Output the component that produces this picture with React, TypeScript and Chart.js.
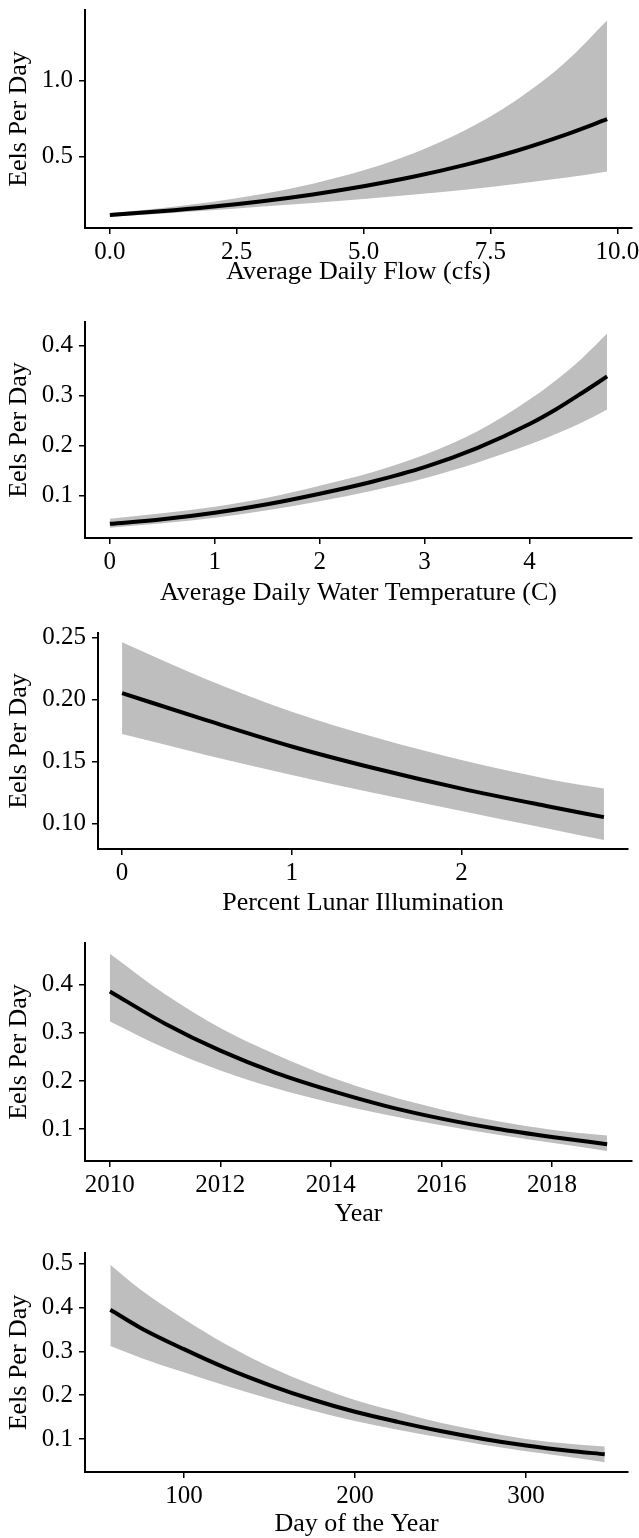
import React, { useEffect, useRef } from "react";
import Chart from "chart.js/auto";

const FONT = "'Liberation Serif', 'Times New Roman', serif";
const Y_TITLE = "Eels Per Day";

// Panel 1: Average Daily Flow (cfs)
const flowX = [0, 1, 2, 3, 4, 5, 6, 7, 8, 9, 9.8];
const flowFit = [0.112, 0.136, 0.166, 0.203, 0.248, 0.302, 0.366, 0.443, 0.535, 0.645, 0.745];
const flowUpper = [0.125, 0.157, 0.198, 0.251, 0.319, 0.407, 0.522, 0.672, 0.869, 1.128, 1.4];
const flowLower = [0.1, 0.12, 0.143, 0.168, 0.192, 0.218, 0.247, 0.279, 0.317, 0.359, 0.4];
const flowXTicks = [0, 2.5, 5, 7.5, 10];
const flowXLabels = ["0.0", "2.5", "5.0", "7.5", "10.0"];
const flowYTicks = [0.5, 1.0];
const flowYLabels = ["0.5", "1.0"];

// Panel 2: Average Daily Water Temperature (C)
const tempX = [0, 0.5, 1, 1.5, 2, 2.5, 3, 3.5, 4, 4.25, 4.5, 4.74];
const tempFit = [0.044, 0.053, 0.066, 0.083, 0.104, 0.128, 0.157, 0.195, 0.243, 0.272, 0.305, 0.338];
const tempUpper = [0.054, 0.065, 0.078, 0.096, 0.12, 0.147, 0.182, 0.228, 0.292, 0.33, 0.374, 0.4235];
const tempLower = [0.036, 0.045, 0.056, 0.071, 0.089, 0.11, 0.135, 0.166, 0.202, 0.223, 0.246, 0.272];
const tempXTicks = [0, 1, 2, 3, 4];
const tempXLabels = ["0", "1", "2", "3", "4"];
const tempYTicks = [0.1, 0.2, 0.3, 0.4];
const tempYLabels = ["0.1", "0.2", "0.3", "0.4"];

// Panel 3: Percent Lunar Illumination
const lunarX = [0, 0.5, 1, 1.5, 2, 2.5, 2.84];
const lunarFit = [0.205, 0.183, 0.162, 0.144, 0.128, 0.114, 0.105];
const lunarUpper = [0.246, 0.216, 0.19, 0.169, 0.151, 0.136, 0.128];
const lunarLower = [0.172, 0.155, 0.139, 0.124, 0.11, 0.096, 0.0865];
const lunarXTicks = [0, 1, 2];
const lunarXLabels = ["0", "1", "2"];
const lunarYTicks = [0.1, 0.15, 0.2, 0.25];
const lunarYLabels = ["0.10", "0.15", "0.20", "0.25"];

// Panel 4: Year
const yearX = [2010, 2011, 2012, 2013, 2014, 2015, 2016, 2017, 2018, 2019];
const yearFit = [0.386, 0.319, 0.263, 0.217, 0.18, 0.148, 0.122, 0.101, 0.084, 0.069];
const yearUpper = [0.4645, 0.38, 0.31, 0.255, 0.208, 0.171, 0.141, 0.117, 0.099, 0.0867];
const yearLower = [0.3237, 0.268, 0.222, 0.185, 0.155, 0.13, 0.108, 0.089, 0.072, 0.0549];
const yearXTicks = [2010, 2012, 2014, 2016, 2018];
const yearXLabels = ["2010", "2012", "2014", "2016", "2018"];
const yearYTicks = [0.1, 0.2, 0.3, 0.4];
const yearYLabels = ["0.1", "0.2", "0.3", "0.4"];

// Panel 5: Day of the Year
const dayX = [57, 75, 100, 125, 150, 175, 200, 225, 250, 275, 300, 325, 346];
const dayFit = [0.395, 0.353, 0.305, 0.261, 0.223, 0.19, 0.162, 0.139, 0.118, 0.1, 0.085, 0.073, 0.065];
const dayUpper = [0.498, 0.44, 0.374, 0.315, 0.265, 0.224, 0.189, 0.162, 0.137, 0.117, 0.1, 0.089, 0.083];
const dayLower = [0.312, 0.285, 0.252, 0.221, 0.192, 0.165, 0.141, 0.121, 0.103, 0.087, 0.072, 0.059, 0.047];
const dayXTicks = [100, 200, 300];
const dayXLabels = ["100", "200", "300"];
const dayYTicks = [0.1, 0.2, 0.3, 0.4, 0.5];
const dayYLabels = ["0.1", "0.2", "0.3", "0.4", "0.5"];

type Panel = {
  top: number; height: number; padTop: number; padRight: number; yWidth: number; xHeight: number;
  xs: number[]; fit: number[]; upper: number[]; lower: number[];
  xMin: number; xMax: number; yMin: number; yMax: number;
  xTicks: number[]; xLabels: string[]; yTicks: number[]; yLabels: string[]; xTitle: string;
};

const PANELS: Panel[] = [
  { top: 0, height: 288, padTop: 10, padRight: 7, yWidth: 85, xHeight: 60,
    xs: flowX, fit: flowFit, upper: flowUpper, lower: flowLower,
    xMin: -0.49, xMax: 10.29, yMin: 0.026, yMax: 1.467,
    xTicks: flowXTicks, xLabels: flowXLabels, yTicks: flowYTicks, yLabels: flowYLabels,
    xTitle: "Average Daily Flow (cfs)" },
  { top: 300, height: 309, padTop: 22, padRight: 7, yWidth: 85, xHeight: 71,
    xs: tempX, fit: tempFit, upper: tempUpper, lower: tempLower,
    xMin: -0.237, xMax: 4.977, yMin: 0.0157, yMax: 0.4466,
    xTicks: tempXTicks, xLabels: tempXLabels, yTicks: tempYTicks, yLabels: tempYLabels,
    xTitle: "Average Daily Water Temperature (C)" },
  { top: 610, height: 309, padTop: 23, padRight: 11, yWidth: 98, xHeight: 70,
    xs: lunarX, fit: lunarFit, upper: lunarUpper, lower: lunarLower,
    xMin: -0.142, xMax: 2.982, yMin: 0.0793, yMax: 0.2535,
    xTicks: lunarXTicks, xLabels: lunarXLabels, yTicks: lunarYTicks, yLabels: lunarYLabels,
    xTitle: "Percent Lunar Illumination" },
  { top: 920, height: 310, padTop: 23, padRight: 7, yWidth: 85, xHeight: 69,
    xs: yearX, fit: yearFit, upper: yearUpper, lower: yearLower,
    xMin: 2009.55, xMax: 2019.45, yMin: 0.034, yMax: 0.4866,
    xTicks: yearXTicks, xLabels: yearXLabels, yTicks: yearYTicks, yLabels: yearYLabels,
    xTitle: "Year" },
  { top: 1230, height: 310, padTop: 23, padRight: 11, yWidth: 85, xHeight: 68,
    xs: dayX, fit: dayFit, upper: dayUpper, lower: dayLower,
    xMin: 42.2, xMax: 359.6, yMin: 0.0245, yMax: 0.5246,
    xTicks: dayXTicks, xLabels: dayXLabels, yTicks: dayYTicks, yLabels: dayYLabels,
    xTitle: "Day of the Year" },
];

function pts(xs: number[], ys: number[]) {
  return ys.map((y, i) => ({ x: xs[i], y }));
}

function PanelChart({ p }: { p: Panel }) {
  const ref = useRef<HTMLCanvasElement | null>(null);
  useEffect(() => {
    if (!ref.current) return;
    const grid = { display: true, drawOnChartArea: false, drawTicks: true, tickLength: 6, color: "#000", lineWidth: 1.5 };
    const border = { display: true, color: "#000", width: 2 };
    const chart = new Chart(ref.current, {
      type: "line",
      data: {
        datasets: [
          { data: pts(p.xs, p.lower), order: 3, borderWidth: 0, pointRadius: 0, fill: false, cubicInterpolationMode: "monotone", borderColor: "rgba(0,0,0,0)" },
          { data: pts(p.xs, p.upper), order: 2, borderWidth: 0, pointRadius: 0, fill: "-1", backgroundColor: "#bebebe", cubicInterpolationMode: "monotone", borderColor: "rgba(0,0,0,0)" },
          { data: pts(p.xs, p.fit), order: 1, borderWidth: 4, pointRadius: 0, fill: false, borderColor: "#000", cubicInterpolationMode: "monotone", borderCapStyle: "butt" },
        ],
      } as any,
      options: {
        animation: false,
        responsive: false,
        maintainAspectRatio: false,
        layout: { padding: { top: p.padTop, right: p.padRight, left: 0, bottom: 0 } },
        plugins: { legend: { display: false }, tooltip: { enabled: false } },
        scales: {
          x: {
            type: "linear", min: p.xMin, max: p.xMax,
            afterBuildTicks: (s: any) => { s.ticks = p.xTicks.map((v) => ({ value: v })); },
            afterFit: (s: any) => { s.height = p.xHeight; s.paddingLeft = 0; s.paddingRight = 0; },
            ticks: {
              autoSkip: false, maxRotation: 0, padding: 3, color: "#000",
              font: { family: FONT, size: 25 },
              callback: (v: any) => { const i = p.xTicks.indexOf(Number(v)); return i >= 0 ? p.xLabels[i] : ""; },
            },
            grid, border,
            title: { display: true, text: p.xTitle, color: "#000", font: { family: FONT, size: 26 }, padding: { top: 0, bottom: 0 } },
          },
          y: {
            type: "linear", min: p.yMin, max: p.yMax,
            afterBuildTicks: (s: any) => { s.ticks = p.yTicks.map((v) => ({ value: v })); },
            afterFit: (s: any) => { s.width = p.yWidth; s.paddingTop = 0; s.paddingBottom = 0; },
            ticks: {
              autoSkip: false, padding: 6, color: "#000",
              font: { family: FONT, size: 25 },
              callback: (v: any) => { const i = p.yTicks.indexOf(Number(v)); return i >= 0 ? p.yLabels[i] : ""; },
            },
            grid, border,
            title: { display: true, text: Y_TITLE, color: "#000", font: { family: FONT, size: 26 }, padding: { top: 4, bottom: 0 } },
          },
        },
      } as any,
    });
    return () => chart.destroy();
  }, [p]);
  return (
    <canvas
      ref={ref}
      width={639}
      height={p.height}
      style={{ position: "absolute", left: 0, top: p.top, width: 639, height: p.height, display: "block" }}
    />
  );
}

export default function App() {
  return (
    <div style={{ position: "absolute", left: 0, top: 0, width: 639, height: 1538, background: "#fff", overflow: "hidden" }}>
      {PANELS.map((p, i) => (
        <PanelChart key={i} p={p} />
      ))}
    </div>
  );
}
